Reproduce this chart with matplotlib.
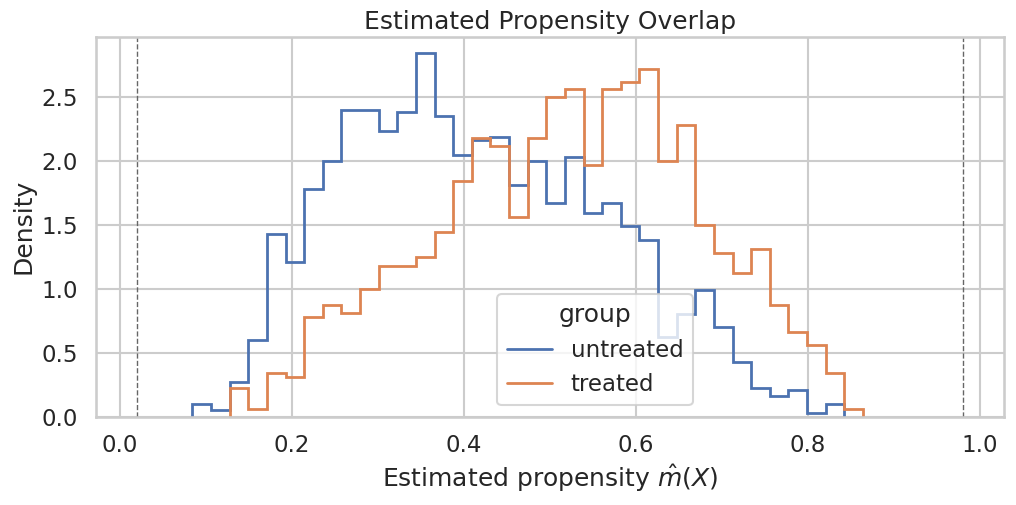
import numpy as np
import matplotlib
matplotlib.use("Agg")
import matplotlib.pyplot as plt
import seaborn as sns

sns.set_theme(style="whitegrid", context="talk")

edge_lo, edge_hi, n_bins = 0.0847, 0.8643, 36
untreated = [0.1, 0.05, 0.27, 0.6, 1.43, 1.21, 1.78, 2.0, 2.4, 2.4,
             2.23, 2.38, 2.84, 2.35, 2.05, 2.16, 2.19, 1.81, 2.0, 1.67,
             2.03, 1.59, 1.67, 1.49, 1.38, 0.62, 0.8, 0.99, 0.7, 0.43,
             0.22, 0.16, 0.21, 0.03, 0.1, 0.0]
treated = [0.0, 0.0, 0.22, 0.06, 0.34, 0.31, 0.78, 0.87, 0.81, 1.0,
           1.18, 1.18, 1.25, 1.44, 1.84, 2.18, 2.12, 1.56, 2.18, 2.5,
           2.56, 1.97, 2.56, 2.62, 2.72, 2.0, 2.28, 1.5, 1.28, 1.12,
           1.31, 0.87, 0.66, 0.56, 0.34, 0.06]
trim_lo, trim_hi = 0.02, 0.98

edges = np.linspace(edge_lo, edge_hi, n_bins + 1)
pal = sns.color_palette()

fig, ax = plt.subplots(figsize=(10.16, 5.05), dpi=100)
# untreated: bins 0..34
ax.stairs(untreated[:35], edges[:36], color=pal[0], lw=2, label="untreated")
ax.stairs(treated[2:], edges[2:], color=pal[1], lw=2, label="treated")
for v in (trim_lo, trim_hi):
    ax.axvline(v, color="0.4", ls="--", lw=1)
ax.set_xlim(-0.028, 1.028)
ax.set_ylim(0, 2.97)
ax.set_xlabel(r"Estimated propensity $\hat{m}(X)$")
ax.set_ylabel("Density")
ax.set_title("Estimated Propensity Overlap")
ax.legend(title="group", loc="lower center", bbox_to_anchor=(0.55, 0.0))
fig.subplots_adjust(left=0.094, right=0.988, top=0.927, bottom=0.175)
fig.savefig("out.png")
